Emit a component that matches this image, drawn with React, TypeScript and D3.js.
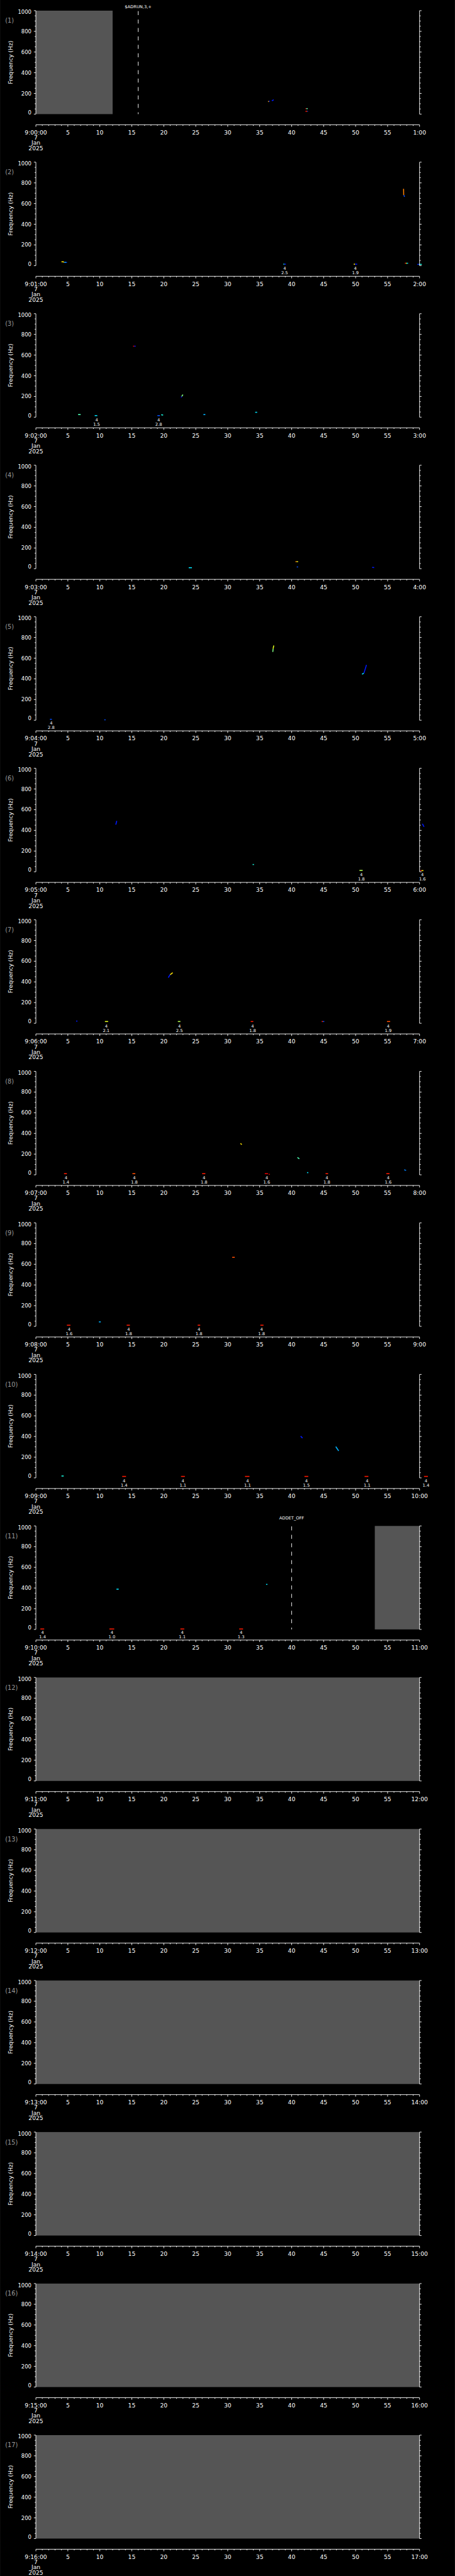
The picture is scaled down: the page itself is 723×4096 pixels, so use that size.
import * as d3 from 'd3';

// one panel per minute, 9:00 .. 9:16, 7 Jan 2025
const START_LABELS = [
  '9:00:00', '9:01:00', '9:02:00', '9:03:00', '9:04:00', '9:05:00', '9:06:00', '9:07:00', '9:08:00',
  '9:09:00', '9:10:00', '9:11:00', '9:12:00', '9:13:00', '9:14:00', '9:15:00', '9:16:00',
];
const END_LABELS = [
  '1:00', '2:00', '3:00', '4:00', '5:00', '6:00', '7:00', '8:00', '9:00',
  '10:00', '11:00', '12:00', '13:00', '14:00', '15:00', '16:00', '17:00',
];
const MID_SECONDS = [5, 10, 15, 20, 25, 30, 35, 40, 45, 50, 55];
const FREQ_LABELS = [0, 200, 400, 600, 800, 1000];
const DATE_LINES = ['7', 'Jan', '2025'];

// spectrogram fragments: [t0 (s), t1 (s), f0 (Hz), f1 (Hz), intensity 0..1]
type Blip = [number, number, number, number, number];
const blips1: Blip[] = [
  [36.3, 36.45, 122, 122, 0.7], [36.45, 36.6, 124, 124, 0.15], [36.9, 37.2, 129, 139, 0.15],
  [42.15, 42.3, 53, 53, 0.9], [42.3, 42.5, 53, 53, 0.45],
  [42.15, 42.35, 27, 27, 0.9], [42.35, 42.45, 27, 27, 0.75], [42.45, 42.55, 27, 27, 0.15],
];
const blips2: Blip[] = [
  [4.0, 4.35, 37, 37, 0.65], [4.35, 4.4, 37, 30, 0.65], [4.4, 4.86, 31, 31, 0.2], [4.55, 4.65, 31, 31, 0.4],
  [38.7, 38.85, 14, 14, 0.4], [38.85, 39.1, 14, 14, 0.15],
  [49.7, 49.9, 14, 14, 0.65], [49.9, 50.25, 14, 14, 0.15],
  [57.5, 57.52, 742, 682, 0.75], [57.55, 57.65, 682, 665, 0.2],
  [57.7, 57.85, 23, 23, 0.9], [57.85, 58.0, 23, 23, 0.6], [58.0, 58.2, 23, 23, 0.35],
  [59.65, 59.9, 12, 12, 0.15], [59.9, 60.35, 12, 12, 0.4],
];
const blips3: Blip[] = [
  [6.6, 7.0, 25, 25, 0.45], [9.2, 9.6, 15, 15, 0.35],
  [15.2, 15.4, 686, 686, 0.9], [15.4, 15.6, 686, 686, 0.15],
  [19.0, 19.4, 15, 15, 0.2], [19.6, 19.9, 23, 20, 0.4],
  [22.7, 22.8, 190, 200, 0.1], [22.8, 23.0, 200, 218, 0.5],
  [26.2, 26.5, 25, 25, 0.3], [34.3, 34.6, 47, 47, 0.35],
];
const blips4: Blip[] = [
  [23.9, 24.4, 9.5, 9.5, 0.35], [40.6, 40.8, 68, 68, 0.75], [40.8, 41.0, 68, 68, 0.6],
  [40.8, 41.0, 17, 17, 0.2], [52.6, 52.9, 13, 11, 0.15],
];
const blips5: Blip[] = [
  [2.2, 2.5, 9, 9, 0.2], [10.7, 10.9, 4, 4, 0.2],
  [37.05, 37.1, 660, 690, 0.5], [37.1, 37.2, 690, 723, 0.6],
  [51.0, 51.3, 445, 455, 0.35], [51.3, 51.7, 455, 535, 0.15],
];
const blips6: Blip[] = [
  [12.5, 12.65, 455, 492, 0.15], [33.9, 34.1, 70, 70, 0.4], [50.6, 51.1, 13, 13, 0.55],
  [60.1, 60.3, 11, 11, 0.9], [60.3, 60.6, 11, 11, 0.65], [60.45, 60.7, 464, 434, 0.15],
];
const blips7: Blip[] = [
  [6.3, 6.5, 21, 21, 0.15], [10.8, 11.3, 17, 17, 0.6],
  [20.7, 21.0, 441, 470, 0.15], [21.0, 21.4, 470, 489, 0.65],
  [22.2, 22.6, 17, 17, 0.55], [33.6, 34.0, 17, 17, 0.85],
  [44.7, 44.9, 17, 17, 0.85], [44.9, 45.1, 17, 17, 0.2], [54.9, 55.4, 17, 17, 0.8],
];
const blips8: Blip[] = [
  [4.4, 4.85, 11, 11, 0.85], [15.1, 15.55, 11, 11, 0.8], [26.0, 26.5, 11, 11, 0.85],
  [35.8, 36.3, 11, 11, 0.9], [36.4, 36.6, 5, 5, 0.95], [32.0, 32.2, 303, 292, 0.65],
  [40.9, 41.2, 168, 155, 0.45], [42.4, 42.6, 21, 21, 0.35], [45.3, 45.7, 11, 11, 0.85],
  [54.8, 55.3, 11, 11, 0.85], [57.6, 57.9, 49, 42, 0.25],
];
const blips9: Blip[] = [
  [4.85, 5.4, 11, 11, 0.85], [9.85, 10.15, 43, 43, 0.3], [14.2, 14.7, 11, 11, 0.85],
  [25.3, 25.7, 11, 11, 0.85], [30.7, 31.1, 667, 667, 0.8], [35.1, 35.6, 11, 11, 0.85],
];
const blips10: Blip[] = [
  [4.0, 4.35, 18, 18, 0.4], [13.5, 14.1, 14, 14, 0.85], [22.7, 23.3, 14, 14, 0.85],
  [32.7, 33.4, 14, 14, 0.85], [41.4, 41.7, 403, 385, 0.15], [42.0, 42.6, 14, 14, 0.85],
  [46.9, 47.35, 302, 261, 0.3], [51.4, 52.0, 14, 14, 0.85], [60.7, 61.3, 14, 14, 0.85],
];
const blips11: Blip[] = [
  [0.7, 1.3, 4, 4, 0.85], [11.5, 12.25, 4, 4, 0.85], [12.6, 12.95, 389, 389, 0.35],
  [22.6, 23.2, 4, 4, 0.85], [31.8, 32.4, 4, 4, 0.85], [36.0, 36.2, 435, 435, 0.35],
];

// event picks under the traces: [t (s), count, amplitude]
type Pick = [number, string, string];
const picks2: Pick[] = [[38.9, '4', '2.5'], [49.97, '4', '1.9']];
const picks3: Pick[] = [[9.5, '4', '1.5'], [19.2, '4', '2.8']];
const picks5: Pick[] = [[2.4, '4', '2.8']];
const picks6: Pick[] = [[50.9, '4', '1.8'], [60.45, '4', '1.6']];
const picks7: Pick[] = [[11.0, '4', '2.1'], [22.45, '4', '2.5'], [33.9, '4', '1.8'], [55.1, '4', '1.9']];
const picks8: Pick[] = [
  [4.7, '4', '1.4'], [15.4, '4', '1.8'], [26.3, '4', '1.8'], [36.1, '4', '1.6'], [45.5, '4', '1.8'], [55.1, '4', '1.6'],
];
const picks9: Pick[] = [[5.2, '4', '1.6'], [14.5, '4', '1.8'], [25.5, '4', '1.8'], [35.3, '4', '1.8']];
const picks10: Pick[] = [
  [13.8, '4', '1.4'], [23.0, '4', '1.1'], [33.1, '4', '1.1'], [42.3, '4', '1.5'], [51.8, '4', '1.1'], [61.0, '4', '1.4'],
];
const picks11: Pick[] = [[1.04, '4', '1.4'], [11.9, '4', '1.0'], [22.9, '4', '1.1'], [32.1, '4', '1.3']];

// stretches without data (grey), [t0, t1]
const gaps1: [number, number][] = [[0, 12]];
const gaps11: [number, number][] = [[53, 60]];
const gapsFull: [number, number][] = [[0, 60]];

// commands logged on the time line
type Marker = { t: number; text: string };
const markers1: Marker[] = [{ t: 16, text: '$ADRUN,3,+' }];
const markers11: Marker[] = [{ t: 40, text: 'ADDET_OFF' }];

interface PanelData {
  blips: Blip[];
  picks: Pick[];
  gaps: [number, number][];
  markers: Marker[];
}

const PANELS: PanelData[] = [
  { blips: blips1, picks: [], gaps: gaps1, markers: markers1 },
  { blips: blips2, picks: picks2, gaps: [], markers: [] },
  { blips: blips3, picks: picks3, gaps: [], markers: [] },
  { blips: blips4, picks: [], gaps: [], markers: [] },
  { blips: blips5, picks: picks5, gaps: [], markers: [] },
  { blips: blips6, picks: picks6, gaps: [], markers: [] },
  { blips: blips7, picks: picks7, gaps: [], markers: [] },
  { blips: blips8, picks: picks8, gaps: [], markers: [] },
  { blips: blips9, picks: picks9, gaps: [], markers: [] },
  { blips: blips10, picks: picks10, gaps: [], markers: [] },
  { blips: blips11, picks: picks11, gaps: gaps11, markers: markers11 },
  { blips: [], picks: [], gaps: gapsFull, markers: [] },
  { blips: [], picks: [], gaps: gapsFull, markers: [] },
  { blips: [], picks: [], gaps: gapsFull, markers: [] },
  { blips: [], picks: [], gaps: gapsFull, markers: [] },
  { blips: [], picks: [], gaps: gapsFull, markers: [] },
  { blips: [], picks: [], gaps: gapsFull, markers: [] },
];

// drawing in the reference's own units, the viewBox shrinks it to the window
const W = 1024;
const H = 5802;
const PITCH = H / 17;
const TOP0 = 24;
const PLOT_H = 233;
const X0 = 80.7;
const X1 = 944.3;
const AXIS_GAP = 24;
const FONT = '"DejaVu Sans", sans-serif';
const LW = 1.3;

const jet = d3
  .scaleLinear<string>()
  .domain([0, 0.125, 0.375, 0.625, 0.875, 1])
  .range(['#00008f', '#0000ff', '#00ffff', '#ffff00', '#ff0000', '#800000'])
  .clamp(true);

const Panel = ({ p, i }: { p: PanelData; i: number }) => {
  const top = TOP0 + i * PITCH;
  const bottom = top + PLOT_H;
  const x = d3.scaleLinear().domain([0, 60]).range([X0, X1]);
  const y = d3.scaleLinear().domain([0, 1000]).range([bottom, top]);
  const axisY = bottom + AXIS_GAP;
  const secTicks = x.ticks(60);
  const freqTicks = y.ticks(20);

  return (
    <g>
      {/* no-data shading */}
      {p.gaps.map(([a, b], k) => (
        <rect key={k} x={x(a)} y={top} width={x(b) - x(a)} height={PLOT_H} fill="#555555" />
      ))}

      {/* spectrogram fragments */}
      {p.blips.map(([t0, t1, f0, f1, z], k) => (
        <line key={k} x1={x(t0)} x2={x(t1)} y1={y(f0)} y2={y(f1)} stroke={jet(z)} strokeWidth={2.2} />
      ))}

      {/* picks */}
      {p.picks.map(([t, n, amp], k) => (
        <g key={k} fill="#fff" fontFamily={FONT} fontSize={9.5} textAnchor="middle">
          <text x={x(t)} y={bottom + 9.6}>{n}</text>
          <text x={x(t)} y={bottom + 19.6}>{amp}</text>
        </g>
      ))}

      {/* command markers */}
      {p.markers.map((m, k) => (
        <g key={k}>
          <line x1={x(m.t)} x2={x(m.t)} y1={top + 1} y2={bottom} stroke="#fff" strokeWidth={LW} strokeDasharray="9 10" />
          <text
            x={x(m.t)}
            y={Math.max(top - 18, 15) + 3.4}
            fill="#fff"
            fontFamily={FONT}
            fontSize={9.5}
            textAnchor="middle"
          >
            {m.text}
          </text>
        </g>
      ))}

      {/* left and right frequency axes */}
      <line x1={X0} x2={X0} y1={top} y2={bottom} stroke="#fff" strokeWidth={LW} />
      <line x1={X1} x2={X1} y1={top} y2={bottom} stroke="#fff" strokeWidth={LW} />
      {freqTicks.map((f) => {
        const major = f % 200 === 0;
        const len = major ? 4.5 : 2.7;
        return (
          <g key={f}>
            <line x1={X0 - len} x2={X0} y1={y(f)} y2={y(f)} stroke="#fff" strokeWidth={LW} />
            <line x1={X1} x2={X1 + len} y1={y(f)} y2={y(f)} stroke="#fff" strokeWidth={LW} />
          </g>
        );
      })}
      {FREQ_LABELS.map((f) => (
        <text
          key={f}
          x={X0 - 10}
          y={Math.min(Math.max(y(f), top + 3.5), bottom - 4) + 4.3}
          fill="#fff"
          fontFamily={FONT}
          fontSize={12}
          textAnchor="end"
        >
          {f}
        </text>
      ))}
      <text
        transform={`translate(23.5,${(top + bottom) / 2}) rotate(-90)`}
        fill="#fff"
        fontFamily={FONT}
        fontSize={13}
        textAnchor="middle"
        dominantBaseline="central"
      >
        Frequency (Hz)
      </text>
      <text x={11.5} y={top + 27.5} fill="#9a9a9a" fontFamily={FONT} fontSize={14}>
        ({i + 1})
      </text>

      {/* time axis */}
      <line x1={X0} x2={X1} y1={axisY} y2={axisY} stroke="#fff" strokeWidth={LW} />
      {secTicks.map((s) => (
        <line
          key={s}
          x1={x(s)}
          x2={x(s)}
          y1={axisY}
          y2={axisY + (s % 5 === 0 ? 4.5 : 2.5)}
          stroke="#fff"
          strokeWidth={LW}
        />
      ))}
      <g fill="#fff" fontFamily={FONT} fontSize={13} textAnchor="middle">
        <text x={x(0)} y={axisY + 21.7}>{START_LABELS[i]}</text>
        {DATE_LINES.map((d, k) => (
          <text key={d} x={x(0)} y={axisY + 33.3 + k * 12}>{d}</text>
        ))}
        {MID_SECONDS.map((s) => (
          <text key={s} x={x(s)} y={axisY + 21.7}>{s}</text>
        ))}
        <text x={x(60)} y={axisY + 21.7}>{END_LABELS[i]}</text>
      </g>
    </g>
  );
};

export default function App() {
  return (
    <svg
      width={723}
      height={4096}
      viewBox={`0 0 ${W} ${H}`}
      style={{ position: 'absolute', left: 0, top: 0, display: 'block' }}
    >
      <rect width={W} height={H} fill="#000" />
      {PANELS.map((p, i) => (
        <Panel key={i} p={p} i={i} />
      ))}
    </svg>
  );
}
